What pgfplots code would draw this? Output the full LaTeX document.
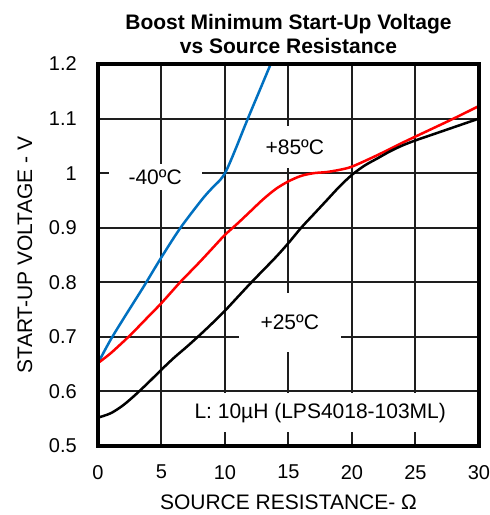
\documentclass[border=0pt]{standalone}
\usepackage{fontspec}
\setmainfont{Liberation Sans}
\usepackage{pgfplots}
\pgfplotsset{compat=1.18}
\definecolor{cblue}{RGB}{0,112,192}
\definecolor{gridc}{RGB}{30,30,30}
\tikzset{annot/.style={fill=white, font=\fontsize{21bp}{25bp}\selectfont}}

\begin{document}
\begin{tikzpicture}
\begin{axis}[
  scale only axis, width=381bp, height=382bp,
  xmin=0, xmax=30, ymin=0.5, ymax=1.2,
  xtick={0,5,10,15,20,25,30},
  ytick={0.5,0.6,0.7,0.8,0.9,1,1.1,1.2},
  grid=major,
  major grid style={draw=gridc, line width=2bp},
  axis line style={draw=none},
  major tick length=0pt,
  /pgf/number format/assume math mode=true,
  ticklabel style={font=\fontsize{20bp}{24bp}\selectfont, inner sep=0pt},
  yticklabel style={anchor=east, xshift=-21bp},
  xticklabel style={anchor=north, yshift=-19bp},
  xlabel={SOURCE RESISTANCE- Ω},
  ylabel={START-UP VOLTAGE - V},
  xlabel style={font=\fontsize{21bp}{25bp}\selectfont, at={(axis description cs:0.5,0)}, anchor=center, yshift=-56bp},
  ylabel style={font=\fontsize{21bp}{25bp}\selectfont, at={(axis description cs:0,0.5)}, anchor=center, yshift=73bp},
  title={Boost Minimum Start-Up Voltage\\vs Source Resistance},
  title style={font=\fontsize{21bp}{24bp}\selectfont\bfseries, align=center, at={(axis description cs:0.5,1)}, anchor=center, yshift=24.5bp},
]

\node[annot, inner xsep=20bp, inner ysep=6bp] at (axis cs:4.5,0.993) {-40ºC};
\node[annot, inner xsep=10bp, inner ysep=14bp] at (axis cs:15.5,1.048) {+85ºC};
\node[annot, inner xsep=22bp, inner ysep=22bp] at (axis cs:15.1,0.726) {+25ºC};
\node[annot, inner xsep=21bp, inner ysep=10bp] at (axis cs:17.5,0.561) {L: 10µH (LPS4018-103ML)};

% -40 C
\addplot[cblue, line width=2.5bp, smooth] coordinates {
  (0,0.652) (1,0.695) (2,0.733) (3,0.77) (3.7,0.796) (5,0.846) (6.5,0.9)
  (8.2,0.952) (9,0.973) (9.6,0.987) (10,1.0) (10.4,1.02) (10.9,1.048)
  (11.8,1.1) (12.7,1.15) (13.6,1.2)
};
% +85 C
\addplot[red, line width=2.5bp, smooth] coordinates {
  (0,0.652) (1,0.67) (2.4,0.7) (3,0.714) (4,0.738) (5,0.762) (6.46,0.8) (7,0.813)
  (8,0.837) (9,0.862) (10,0.887) (11,0.908) (12,0.93) (13,0.952) (14,0.971)
  (15,0.985) (16,0.995) (17,1.0) (18,1.002) (19,1.006) (20,1.012) (22,1.033)
  (24,1.056) (26,1.078) (28,1.1) (30,1.123)
};
% +25 C
\addplot[black, line width=2.5bp, smooth] coordinates {
  (0,0.552) (1,0.56) (2,0.575) (3,0.595) (4,0.617) (5,0.64) (6,0.662) (7,0.682)
  (8,0.703) (9,0.725) (10,0.748) (11,0.773) (12,0.798) (13,0.822) (14,0.846)
  (15,0.872) (16,0.9) (17,0.925) (18,0.95) (19,0.975) (20,0.997) (21,1.014)
  (22,1.027) (23,1.04) (24,1.051) (25,1.06) (26,1.068) (27,1.076) (28,1.084)
  (29,1.092) (30,1.1)
};
\end{axis}
\draw[black, line width=3.5bp] (current axis.south west) rectangle (current axis.north east);
\pgfresetboundingbox
\path ([shift={(-98bp,-69bp)}]current axis.south west) rectangle ([shift={(11bp,64bp)}]current axis.north east);
\end{tikzpicture}
\end{document}
